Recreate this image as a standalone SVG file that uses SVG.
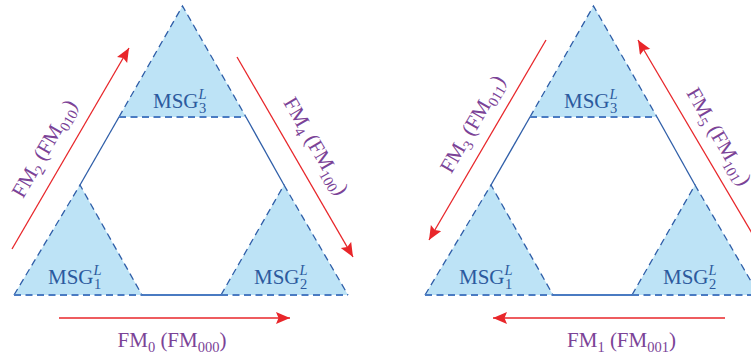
<svg xmlns="http://www.w3.org/2000/svg" width="751" height="358" viewBox="0 0 751 358">
<style>
.tri{fill:#bde3f6;stroke:none}
.dash{fill:none;stroke:#2f5ea8;stroke-width:1.3;stroke-dasharray:7 4.5}
.base{fill:none;stroke:#4a7bc2;stroke-width:1.8;stroke-dasharray:7 4.5}
.solid{fill:none;stroke:#2f5ea8;stroke-width:1.3}
.sbase{fill:none;stroke:#4a7bc2;stroke-width:1.8}
.arr{fill:none;stroke:#e8262a;stroke-width:1.3;marker-end:url(#ah)}
.lbl{font-family:"Liberation Serif","Times New Roman",serif;font-size:21px;fill:#7b4397}
.msg{font-family:"Liberation Serif","Times New Roman",serif;font-size:21px;fill:#2c5a9e}
.sub{font-size:14.5px}
.it{font-style:italic}
</style>
<defs>
<marker id="ah" markerUnits="userSpaceOnUse" markerWidth="16" markerHeight="14" refX="14" refY="6" orient="auto" viewBox="0 0 16 14">
<path d="M0,0 L14,6 L0,12 L2.5,6 z" fill="#e8262a"/>
</marker>
</defs>

<g id="left">
<g id="left-frame">
<line class="solid" x1="119" y1="117" x2="80" y2="185"/>
<line class="solid" x1="246" y1="117" x2="284" y2="185"/>
<line class="sbase" x1="142" y1="295" x2="221" y2="295"/>
</g>
<g id="left-msg3">
<polygon class="tri" points="182.5,6 246,117 119,117"/>
<polyline class="dash" points="119,117 182.5,6 246,117"/>
<line class="base" x1="119" y1="117" x2="246" y2="117"/>
<text class="msg" x="153" y="108">MSG<tspan class="sub it" dy="-9">L</tspan><tspan class="sub" dx="-7.5" dy="14">3</tspan></text>
</g>
<g id="left-msg1">
<polygon class="tri" points="80,185 142,295 14,295"/>
<polyline class="dash" points="14,295 80,185 142,295"/>
<line class="base" x1="14" y1="295" x2="142" y2="295"/>
<text class="msg" x="48" y="284">MSG<tspan class="sub it" dy="-9">L</tspan><tspan class="sub" dx="-7.5" dy="14">1</tspan></text>
</g>
<g id="left-msg2">
<polygon class="tri" points="284,185 348,295 221,295"/>
<polyline class="dash" points="221,295 284,185 348,295"/>
<line class="base" x1="221" y1="295" x2="348" y2="295"/>
<text class="msg" x="254" y="284">MSG<tspan class="sub it" dy="-9">L</tspan><tspan class="sub" dx="-7.5" dy="14">2</tspan></text>
</g>
</g>

<g id="right">
<g id="right-frame">
<line class="solid" x1="530" y1="117" x2="491" y2="185"/>
<line class="solid" x1="657" y1="117" x2="695" y2="185"/>
<line class="sbase" x1="553" y1="295" x2="632" y2="295"/>
</g>
<g id="right-msg3">
<polygon class="tri" points="593.5,6 657,117 530,117"/>
<polyline class="dash" points="530,117 593.5,6 657,117"/>
<line class="base" x1="530" y1="117" x2="657" y2="117"/>
<text class="msg" x="564" y="108">MSG<tspan class="sub it" dy="-9">L</tspan><tspan class="sub" dx="-7.5" dy="14">3</tspan></text>
</g>
<g id="right-msg1">
<polygon class="tri" points="491,185 553,295 425,295"/>
<polyline class="dash" points="425,295 491,185 553,295"/>
<line class="base" x1="425" y1="295" x2="553" y2="295"/>
<text class="msg" x="459" y="284">MSG<tspan class="sub it" dy="-9">L</tspan><tspan class="sub" dx="-7.5" dy="14">1</tspan></text>
</g>
<g id="right-msg2">
<polygon class="tri" points="695,185 759,295 632,295"/>
<polyline class="dash" points="632,295 695,185 759,295"/>
<line class="base" x1="632" y1="295" x2="759" y2="295"/>
<text class="msg" x="663" y="284">MSG<tspan class="sub it" dy="-9">L</tspan><tspan class="sub" dx="-7.5" dy="14">2</tspan></text>
</g>
</g>

<g id="connectors">
<line class="arr" x1="59" y1="318" x2="290" y2="318"/>
<line class="arr" x1="12" y1="249" x2="129" y2="48"/>
<line class="arr" x1="237" y1="57" x2="353" y2="257"/>
<line class="arr" x1="725" y1="318" x2="493" y2="318"/>
<line class="arr" x1="546" y1="40" x2="429" y2="240"/>
<line class="arr" x1="756" y1="240" x2="638" y2="40"/>
</g>

<g id="labels">
<text class="lbl" x="172" y="347" text-anchor="middle">FM<tspan class="sub" dy="5">0</tspan><tspan dy="-5"> (FM</tspan><tspan class="sub" dy="5">000</tspan><tspan dy="-5">)</tspan></text>
<text class="lbl" x="621.5" y="347" text-anchor="middle">FM<tspan class="sub" dy="5">1</tspan><tspan dy="-5"> (FM</tspan><tspan class="sub" dy="5">001</tspan><tspan dy="-5">)</tspan></text>
<text class="lbl" transform="translate(46,149.5) rotate(-60)" x="0" y="5" text-anchor="middle">FM<tspan class="sub" dy="5">2</tspan><tspan dy="-5"> (FM</tspan><tspan class="sub" dy="5">010</tspan><tspan dy="-5">)</tspan></text>
<text class="lbl" transform="translate(314.5,147) rotate(60)" x="0" y="5" text-anchor="middle">FM<tspan class="sub" dy="5">4</tspan><tspan dy="-5"> (FM</tspan><tspan class="sub" dy="5">100</tspan><tspan dy="-5">)</tspan></text>
<text class="lbl" transform="translate(474,125) rotate(-60)" x="0" y="5" text-anchor="middle">FM<tspan class="sub" dy="5">3</tspan><tspan dy="-5"> (FM</tspan><tspan class="sub" dy="5">011</tspan><tspan dy="-5">)</tspan></text>
<text class="lbl" transform="translate(717.5,137.5) rotate(60)" x="0" y="5" text-anchor="middle">FM<tspan class="sub" dy="5">5</tspan><tspan dy="-5"> (FM</tspan><tspan class="sub" dy="5">101</tspan><tspan dy="-5">)</tspan></text>
</g>
</svg>
